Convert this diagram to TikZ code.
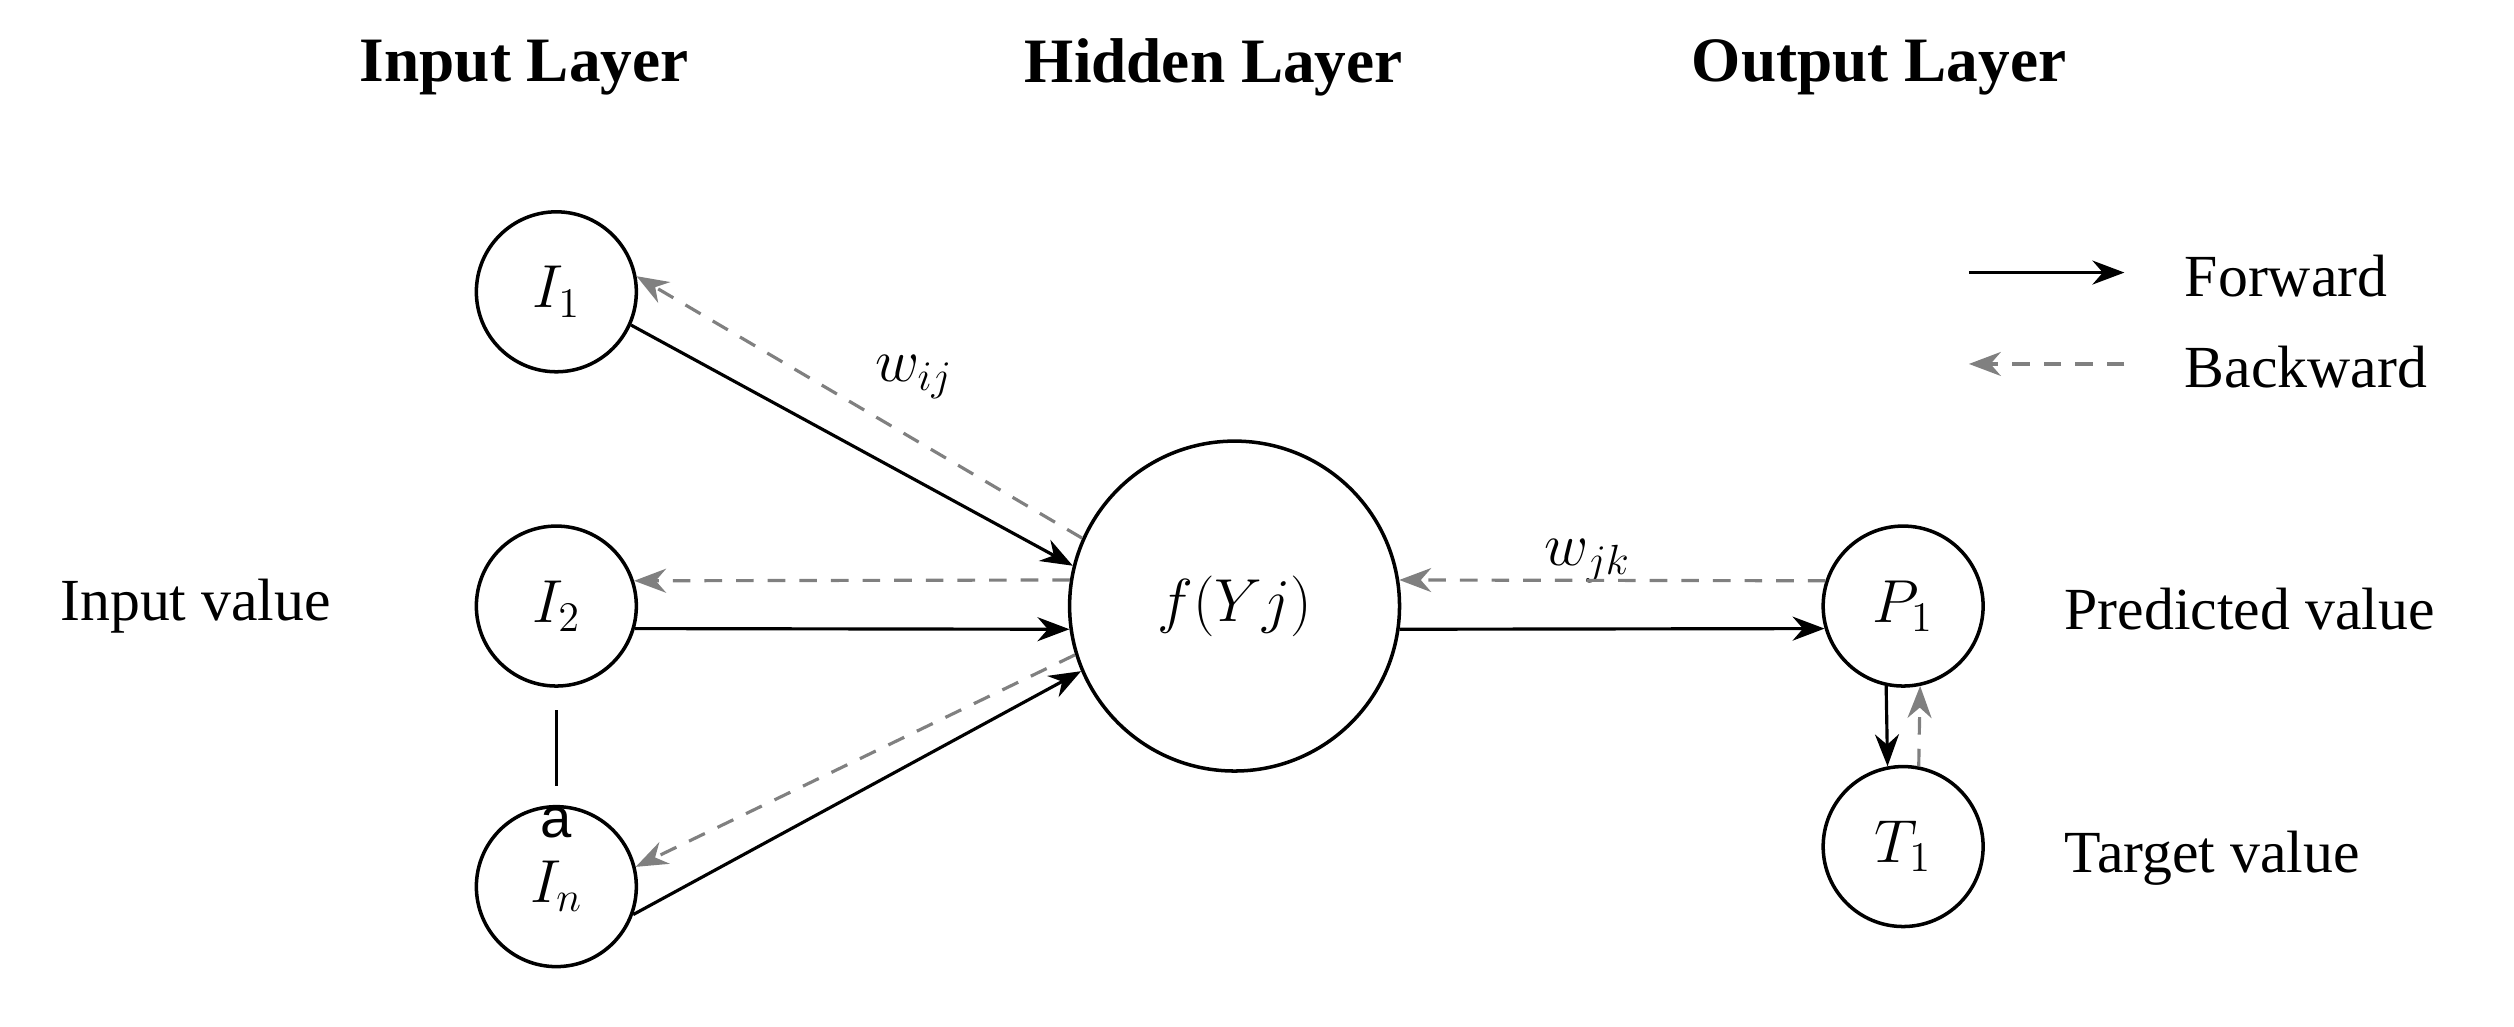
\documentclass[tikz,border=0pt]{standalone}
\usepackage{fontspec}
\setmainfont{Liberation Serif}
\newfontfamily\sansf{Liberation Sans}
\usetikzlibrary{arrows.meta}
\begin{document}
\begin{tikzpicture}[x=0.016033cm,y=-0.016033cm,
  every node/.style={font=\fontsize{17}{20}\selectfont},
  neuron/.style={draw,circle,line width=1pt,inner sep=0pt},
  fw/.style={line width=0.9pt,-{Stealth[length=3.2mm,width=2.4mm]}},
  bw/.style={line width=0.9pt,gray,dashed,dash pattern=on 5pt off 4pt,-{Stealth[length=3.2mm,width=2.4mm]}},
  head/.style={font=\fontsize{18}{22}\selectfont\bfseries}]
\useasboundingbox (0,0) rectangle (1568,640);
\node[head] (h1) at (327,42) {Input Layer};
\node[head] (h2) at (757,42) {Hidden Layer};
\node[head] (h3) at (1172,42) {Output Layer};
\node[neuron,minimum size=100\pgflinewidth*0+1.6cm] (I1) at (347,182) {$I_1$};
\node[neuron,minimum size=1.6cm] (I2) at (347,378) {$I_2$};
\node[neuron,minimum size=1.6cm] (In) at (347,553) {$I_n$};
\node[neuron,minimum size=3.3cm] (H) at (770,378) {$f(Yj)$};
\node[neuron,minimum size=1.6cm] (P1) at (1187,378) {$P_1$};
\node[neuron,minimum size=1.6cm] (T1) at (1187,528) {$T_1$};
\node (iv) at (122,378) {Input value};
\node[anchor=west] (pv) at (1280,380) {Predicted value};
\node[anchor=west] (tv) at (1280,535) {Target value};
\node (wij) at (570,235) {$w_{ij}$};
\node (wjk) at (990,350) {$w_{jk}$};
\coordinate (l1) at (347,443); \coordinate (l2) at (347,490);
\draw[line width=0.8pt] (l1) -- (l2);
\node[font=\fontsize{16}{18}\sansf] (a) at (347,513) {a};
% legend
\coordinate (f1) at (1228,170); \coordinate (f2) at (1325,170);
\coordinate (b1) at (1325,227); \coordinate (b2) at (1228,227);
\draw[fw] (f1) -- (f2);
\draw[bw] (b1) -- (b2);
\node[anchor=west] (fl) at (1355,172) {Forward};
\node[anchor=west] (bl) at (1355,229) {Backward};
% connections
\draw[fw] (I1.-24) -- (H.166);
\draw[bw] (H.156) -- (I1.11);
\draw[fw] (I2.-16) -- (H.188);
\draw[bw] (H.171) -- (I2.18);
\draw[fw] (In.-20) -- (H.203);
\draw[bw] (H.197) -- (In.14);
\draw[fw] (H.-8) -- (P1.196);
\draw[bw] (P1.162) -- (H.9);
\draw[fw] (P1.258) -- (T1.101);
\draw[bw] (T1.79) -- (P1.282);
\end{tikzpicture}
\end{document}
